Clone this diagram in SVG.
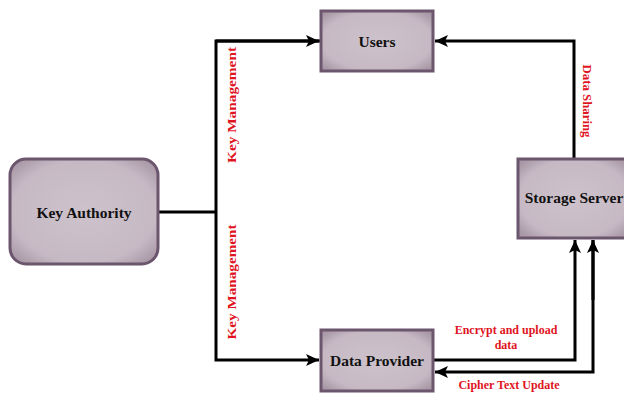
<svg xmlns="http://www.w3.org/2000/svg" width="624" height="393" viewBox="0 0 624 393">
<style>
.box{fill:url(#g);stroke:#6b566d;stroke-width:3}
.inner{fill:none;stroke:#a493a2;stroke-width:3;opacity:0.6}
.nt{font-family:"Liberation Serif","Times New Roman",serif;font-weight:bold;font-size:15.5px;fill:#111;text-anchor:middle}
.lb{font-family:"Liberation Serif","Times New Roman",serif;font-weight:bold;font-size:12px;fill:#e0141e;text-anchor:middle}
.ln{fill:none;stroke:#000;stroke-width:3}
</style>
<defs>
<radialGradient id="g" cx="50%" cy="50%" r="65%">
<stop offset="0%" stop-color="#cdc2cb"/>
<stop offset="75%" stop-color="#c6b9c4"/>
<stop offset="100%" stop-color="#a897a6"/>
</radialGradient>
<marker id="ah" markerUnits="userSpaceOnUse" markerWidth="14" markerHeight="14" viewBox="0 0 14 14" refX="13" refY="7" orient="auto">
<path d="M0,1 L13,7 L0,13 L3,7 Z" fill="#000"/>
</marker>
</defs>
<g id="connectors">
<line class="ln" x1="158" y1="212" x2="216" y2="212"/>
<polyline class="ln" points="321,41 216,41 216,360 319,360" marker-end="url(#ah)"/>
<line class="ln" x1="216" y1="41" x2="319" y2="41" marker-end="url(#ah)"/>
<polyline class="ln" points="574,158 574,41 435,41" marker-end="url(#ah)"/>
<polyline class="ln" points="433,360 575,360 575,240" marker-end="url(#ah)"/>
<polyline class="ln" points="593,240 593,372 435,372" marker-end="url(#ah)"/>
<line class="ln" x1="593" y1="300" x2="593" y2="240" marker-end="url(#ah)"/>
<text class="lb" transform="translate(236,105) rotate(-90)" textLength="116" lengthAdjust="spacingAndGlyphs">Key Management</text>
<text class="lb" transform="translate(236,282) rotate(-90)" textLength="115" lengthAdjust="spacingAndGlyphs">Key Management</text>
<text class="lb" transform="translate(583,101) rotate(90)" textLength="73" lengthAdjust="spacingAndGlyphs">Data Sharing</text>
<text class="lb" x="506" y="334">Encrypt and upload</text>
<text class="lb" x="506" y="349">data</text>
<text class="lb" x="509" y="389">Cipher Text Update</text>
</g>
<g id="key-authority">
<rect class="box" x="10" y="159" width="148" height="105" rx="16"/>
<text class="nt" x="84" y="218">Key Authority</text>
</g>
<g id="users">
<rect class="box" x="321" y="11" width="112" height="60"/>
<text class="nt" x="377" y="47">Users</text>
</g>
<g id="storage-server">
<rect class="box" x="518" y="159" width="112" height="79"/>
<text class="nt" x="574" y="203">Storage Server</text>
</g>
<g id="data-provider">
<rect class="box" x="321" y="330" width="112" height="61"/>
<text class="nt" x="377" y="366">Data Provider</text>
</g>
</svg>
